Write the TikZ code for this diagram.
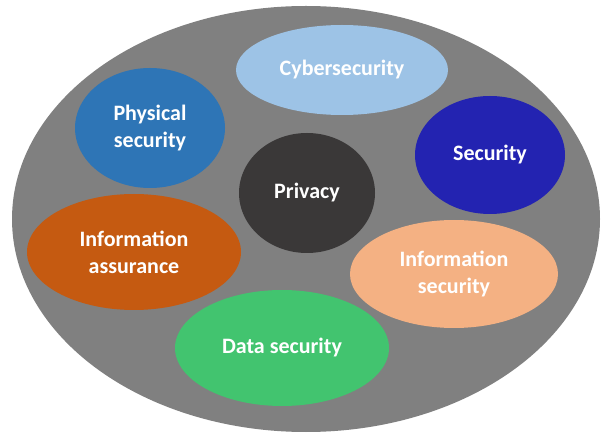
\documentclass[tikz,border=0pt]{standalone}
\usepackage{fontspec}
\setmainfont{Carlito}
\usetikzlibrary{shapes.geometric}
\definecolor{cgray}{HTML}{808080}
\definecolor{ccyber}{HTML}{9DC3E6}
\definecolor{cphys}{HTML}{2E75B6}
\definecolor{csec}{HTML}{2323B1}
\definecolor{cpriv}{HTML}{3A3838}
\definecolor{cinfoa}{HTML}{C55A11}
\definecolor{cinfos}{HTML}{F4B183}
\definecolor{cdata}{HTML}{42C46F}
\begin{document}
\begin{tikzpicture}[x=1pt,y=-1pt,
  blob/.style={ellipse, inner sep=0pt, font=\bfseries\fontsize{22}{27}\selectfont, text=white, align=center}]
\useasboundingbox[fill=white] (0,0) rectangle (608,438);
\node[blob, fill=cgray, minimum width=588, minimum height=426] (outer) at (306,219) {};
\node[blob, fill=ccyber, minimum width=212, minimum height=90] (cyber) at (342,70) {Cybersecurity};
\node[blob, fill=cphys, minimum width=150, minimum height=120] (phys) at (150,128) {Physical\\security};
\node[blob, fill=csec, minimum width=150, minimum height=118] (sec) at (490,155) {Security};
\node[blob, fill=cpriv, minimum width=136, minimum height=120] (priv) at (307,193) {Privacy};
\node[blob, fill=cinfoa, minimum width=214, minimum height=116] (infoa) at (134,252) {Information\\assurance};
\node[blob, fill=cinfos, minimum width=208, minimum height=108] (infos) at (454,274) {Information\\security};
\node[blob, fill=cdata, minimum width=214, minimum height=116] (data) at (282,348) {Data security};
\end{tikzpicture}
\end{document}
